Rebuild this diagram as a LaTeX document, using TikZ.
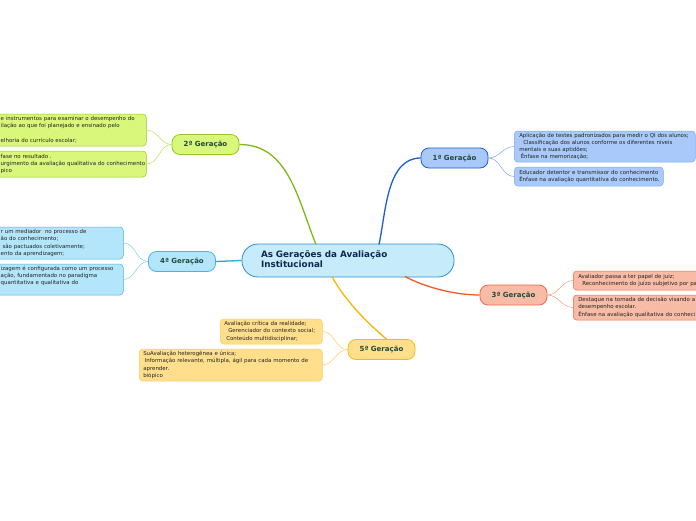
\documentclass[tikz,border=0pt]{standalone}
\usepackage{fontspec}
\setmainfont{DejaVu Sans}
\definecolor{ctrfill}{HTML}{C6EBFB}
\definecolor{ctrdraw}{HTML}{2D8FD5}
\definecolor{ctrtext}{HTML}{10284F}
\definecolor{gentext}{HTML}{1E4A3C}
\definecolor{txt}{HTML}{222222}
\definecolor{afill}{HTML}{A8C9F9}\definecolor{adraw}{HTML}{1A60D0}\definecolor{aline}{HTML}{1B5FD0}\definecolor{asub}{HTML}{7DA9F0}
\definecolor{bfill}{HTML}{D8F77B}\definecolor{bdraw}{HTML}{93C926}\definecolor{bline}{HTML}{80B81A}\definecolor{bsub}{HTML}{B9E05A}
\definecolor{cfill}{HTML}{F8BBA6}\definecolor{cdraw}{HTML}{EE6A43}\definecolor{cline}{HTML}{F05A24}\definecolor{csub}{HTML}{F49A7C}
\definecolor{dfill}{HTML}{B4E6FB}\definecolor{ddraw}{HTML}{45B6EA}\definecolor{dline}{HTML}{2AA5E0}\definecolor{dsub}{HTML}{7FCDF0}
\definecolor{efill}{HTML}{FFDF8C}\definecolor{edraw}{HTML}{F6BB1A}\definecolor{eline}{HTML}{F7B500}\definecolor{esub}{HTML}{F9CF60}
\newcommand{\tb}[1]{\begin{tabular}{@{}l@{}}#1\end{tabular}}
\begin{document}
\begin{tikzpicture}[x=1pt,y=-1pt,
  ctr/.style={draw=ctrdraw, fill=ctrfill, line width=0.8pt, rounded corners=16pt,
    minimum width=212pt, minimum height=33pt, text width=174pt, inner xsep=19pt, inner ysep=0pt,
    align=left, text=ctrtext, font=\fontsize{8.8}{10.6}\selectfont\bfseries},
  gen/.style={rounded corners=8pt, line width=0.8pt, minimum width=67pt, minimum height=20pt,
    inner sep=0pt, text=gentext, font=\fontsize{7}{8}\selectfont\bfseries},
  sub/.style={rounded corners=3.5pt, line width=0.5pt, anchor=west, align=left, inner ysep=0pt,
    text=txt, font=\fontsize{5.45}{7.3}\selectfont},
  mainline/.style={line width=1.3pt},
  subline/.style={line width=0.5pt}
]
\useasboundingbox (0,0) rectangle (696,520);
\clip (0,0) rectangle (696,520);
\fill[white] (0,0) rectangle (696,520);

% central
\node[ctr] (c) at (348,260.5) {\tb{As Gerações da Avaliação\\Institucional}};
\coordinate (c1) at (379,244.5);
\coordinate (c2) at (316,244.5);
\coordinate (c3) at (405,276.5);
\coordinate (c5) at (332,276.5);

% generation nodes
\node[gen, draw=adraw, fill=afill] (g1) at (454.5,158) {1ª Geração};
\node[gen, draw=bdraw, fill=bfill] (g2) at (205.5,144.5) {2ª Geração};
\node[gen, draw=cdraw, fill=cfill] (g3) at (513.5,295) {3ª Geração};
\node[gen, draw=ddraw, fill=dfill] (g4) at (182,261.5) {4ª Geração};
\node[gen, draw=edraw, fill=efill] (g5) at (381.5,349.5) {5ª Geração};

% main connectors
\draw[mainline, aline] (c1) to[out=78,in=180,looseness=0.9] (g1.west);
\draw[mainline, bline] (c2) to[out=112,in=0,looseness=1.0] (g2.east);
\draw[mainline, cline] (c3) to[out=-28,in=180,looseness=0.8] (g3.west);
\draw[mainline, dline] (c.west) -- (g4.east);
\draw[mainline, eline] (c5) to[out=-62,in=140,looseness=0.8] ([xshift=5pt]g5.north);

% 1a children
\node[sub, draw=asub, fill=afill, minimum height=31pt, text width=171pt, inner xsep=5pt] (a1) at (514,146.5)
  {\tb{Aplicação de testes padronizados para medir o QI dos alunos;\\
  \hspace*{4pt}Classificação dos alunos conforme os diferentes níveis\\
  mentais e suas aptidões;\\
  \hspace*{1.5pt}Ênfase na memorização;}};
\node[sub, draw=asub, fill=afill, minimum height=19pt, text width=139pt, inner xsep=5pt] (a2) at (514,176.5)
  {\tb{Educador detentor e transmissor do conhecimento\\
  Ênfase na avaliação quantitativa do conhecimento.}};
\draw[subline, asub] (g1.east) to[out=0,in=180] (a1.west);
\draw[subline, asub] (g1.east) to[out=0,in=180] (a2.west);

% 2a children
\node[sub, draw=bdraw, fill=bfill, minimum height=32pt, text width=141pt, inner xsep=4.5pt] (b1) at (-4,130)
  {\tb{e instrumentos para examinar o desempenho do\\
  ilação ao que foi planejado e ensinado pelo\\
  \\
  elhoria do currículo escolar;}};
\node[sub, draw=bdraw, fill=bfill, minimum height=26pt, text width=141pt, inner xsep=4.5pt] (b2) at (-4,164)
  {\tb{fase no resultado .\\
  urgimento da avaliação qualitativa do conhecimento\\
  pico}};
\draw[subline, bsub] (g2.west) to[out=180,in=0] (b1.east);
\draw[subline, bsub] (g2.west) to[out=180,in=0] (b2.east);

% 4a children
\node[sub, draw=ddraw, fill=dfill, minimum height=32pt, text width=118pt, inner xsep=4.5pt] (d1) at (-4,243)
  {\tb{r um mediador\ \ no processo de\\
  ão do conhecimento;\\
  \ são pactuados coletivamente;\\
  ento da aprendizagem;}};
\node[sub, draw=ddraw, fill=dfill, minimum height=31pt, text width=118pt, inner xsep=4.5pt] (d2) at (-4,279.5)
  {\tb{izagem é configurada como um processo\\
  ação, fundamentado no paradigma\\
  quantitativa e qualitativa do\\
  \\}};
\draw[subline, dsub] (g4.west) to[out=180,in=0] (d1.east);
\draw[subline, dsub] (g4.west) to[out=180,in=0] (d2.east);

% 3a children
\node[sub, draw=cdraw, fill=cfill, minimum height=19pt, text width=140pt, inner xsep=5pt] (e1) at (573,280.5)
  {\tb{Avaliador passa a ter papel de juiz;\\
  \hspace*{4pt}Reconhecimento do juízo subjetivo por pa}};
\node[sub, draw=cdraw, fill=cfill, minimum height=25pt, text width=140pt, inner xsep=5pt] (e2) at (573,307.5)
  {\tb{Destaque na tomada de decisão visando a\\
  desempenho escolar.\\
  Ênfase na avaliação qualitativa do conheci}};
\draw[subline, csub] (g3.east) to[out=0,in=180] (e1.west);
\draw[subline, csub] (g3.east) to[out=0,in=180] (e2.west);

% 5a children
\node[sub, draw=esub, fill=efill, minimum height=25pt, text width=94pt, inner xsep=4pt] (f1) at (220,331.5)
  {\tb{Avaliação crítica da realidade;\\
  \hspace*{4pt}Gerenciador do contexto social;\\
  \hspace*{2pt}Conteúdo multidisciplinar;}};
\node[sub, draw=esub, fill=efill, minimum height=32pt, text width=175pt, inner xsep=4pt] (f2) at (139,365)
  {\tb{SuAvaliação heterogênea e única;\\
  \hspace*{1.5pt}Informação relevante, múltipla, ágil para cada momento de\\
  aprender.\\
  biópico}};
\draw[subline, esub] (g5.west) to[out=180,in=0] (f1.east);
\draw[subline, esub] (g5.west) to[out=180,in=0] (f2.east);
\end{tikzpicture}
\end{document}
